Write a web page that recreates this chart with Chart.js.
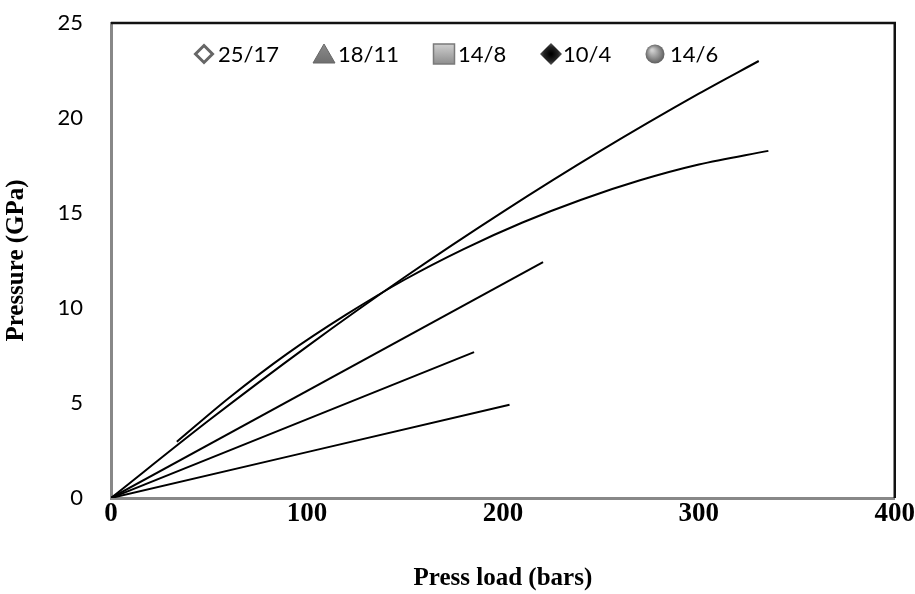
<!DOCTYPE html>
<html lang="en">
<head>
    <meta charset="UTF-8">
    <title>Pressure vs Press load</title>
    <script src="https://cdn.jsdelivr.net/npm/chart.js"></script>
    <style>
        body { margin: 0; background: #fff; }
        #wrap { width: 915px; height: 594px; }
    </style>
</head>
<body>
<div id="wrap"><canvas id="pressureChart" width="915" height="594"></canvas></div>

<script>
    // values
    const seriesNames = ['25/17', '18/11', '14/8', '10/4', '14/6'];

    const loads1 = [0, 50, 100, 150, 200, 250, 300, 330.6];
    const pressure1 = [0, 4.09, 7.97, 11.63, 15.06, 18.28, 21.28, 23.0];

    const loads2 = [33.6, 60, 90, 120, 150, 180, 210, 240, 270, 300, 335.5];
    const pressure2 = [2.96, 5.25, 7.6, 9.65, 11.5, 13.1, 14.5, 15.7, 16.72, 17.55, 18.27];

    const loads3 = [0, 220.5];
    const pressure3 = [0, 12.42];

    const loads4 = [0, 185.3];
    const pressure4 = [0, 7.68];

    const loads5 = [0, 203.4];
    const pressure5 = [0, 4.91];

    const xTicks = [0, 100, 200, 300, 400];
    const yTicks = [0, 5, 10, 15, 20, 25];

    function toPoints(xs, ys) {
        return xs.map((x, i) => ({ x: x, y: ys[i] }));
    }

    const allLoads = [loads1, loads2, loads3, loads4, loads5];
    const allPressure = [pressure1, pressure2, pressure3, pressure4, pressure5];

    const datasets = seriesNames.map((name, i) => ({
        label: name,
        data: toPoints(allLoads[i], allPressure[i]),
        borderColor: '#000',
        borderWidth: 2,
        pointRadius: 0,
        cubicInterpolationMode: 'monotone',
        fill: false
    }));

    // frame: black top and right edges of the plot area
    const framePlugin = {
        id: 'frame',
        afterDatasetsDraw(chart) {
            const a = chart.chartArea;
            const ctx = chart.ctx;
            ctx.save();
            ctx.strokeStyle = '#111';
            ctx.lineWidth = 2.5;
            ctx.beginPath();
            ctx.moveTo(a.left, a.top);
            ctx.lineTo(a.right, a.top);
            ctx.lineTo(a.right, a.bottom);
            ctx.stroke();
            ctx.restore();
        }
    };

    // legend inside the plot area, with shaded markers like the original
    const legendPlugin = {
        id: 'innerLegend',
        afterDraw(chart) {
            const ctx = chart.ctx;
            const a = chart.chartArea;
            const cy = a.top + 31;
            const items = [
                { mark: 'openDiamond', mx: a.left + 93, tx: a.left + 107 },
                { mark: 'triangle', mx: a.left + 213, tx: a.left + 227 },
                { mark: 'square', mx: a.left + 333, tx: a.left + 347 },
                { mark: 'darkDiamond', mx: a.left + 440, tx: a.left + 452 },
                { mark: 'sphere', mx: a.left + 544, tx: a.left + 559 }
            ];
            ctx.save();
            items.forEach((it, i) => {
                const x = it.mx, y = cy;
                let g;
                if (it.mark === 'openDiamond') {
                    ctx.beginPath();
                    ctx.moveTo(x, y - 8.5); ctx.lineTo(x + 8.5, y); ctx.lineTo(x, y + 8.5); ctx.lineTo(x - 8.5, y); ctx.closePath();
                    ctx.fillStyle = '#fff';
                    ctx.fill();
                    ctx.strokeStyle = '#666';
                    ctx.lineWidth = 3;
                    ctx.stroke();
                } else if (it.mark === 'triangle') {
                    g = ctx.createLinearGradient(x, y - 10, x, y + 10);
                    g.addColorStop(0, '#8a8a8a');
                    g.addColorStop(1, '#6e6e6e');
                    ctx.beginPath();
                    ctx.moveTo(x, y - 10); ctx.lineTo(x + 11, y + 9); ctx.lineTo(x - 11, y + 9); ctx.closePath();
                    ctx.fillStyle = g;
                    ctx.fill();
                    ctx.strokeStyle = '#666';
                    ctx.lineWidth = 1;
                    ctx.stroke();
                } else if (it.mark === 'square') {
                    g = ctx.createLinearGradient(x, y - 10, x, y + 10);
                    g.addColorStop(0, '#cfcfcf');
                    g.addColorStop(1, '#8e8e8e');
                    ctx.fillStyle = g;
                    ctx.fillRect(x - 10.5, y - 10, 21, 20);
                    ctx.strokeStyle = '#7a7a7a';
                    ctx.lineWidth = 1.5;
                    ctx.strokeRect(x - 10.5, y - 10, 21, 20);
                } else if (it.mark === 'darkDiamond') {
                    g = ctx.createRadialGradient(x, y, 1, x, y, 11);
                    g.addColorStop(0, '#000');
                    g.addColorStop(0.6, '#222');
                    g.addColorStop(1, '#5a5a5a');
                    ctx.beginPath();
                    ctx.moveTo(x, y - 11); ctx.lineTo(x + 11, y); ctx.lineTo(x, y + 11); ctx.lineTo(x - 11, y); ctx.closePath();
                    ctx.fillStyle = g;
                    ctx.fill();
                } else {
                    g = ctx.createRadialGradient(x - 3, y - 4, 1, x, y, 10);
                    g.addColorStop(0, '#d0d0d0');
                    g.addColorStop(0.6, '#8a8a8a');
                    g.addColorStop(1, '#5a5a5a');
                    ctx.beginPath();
                    ctx.arc(x, y, 9.5, 0, Math.PI * 2);
                    ctx.fillStyle = g;
                    ctx.fill();
                }
                ctx.fillStyle = '#000';
                ctx.font = '22px Lato';
                ctx.textAlign = 'left';
                ctx.textBaseline = 'middle';
                ctx.fillText(chart.data.datasets[i].label, it.tx, y + 1);
            });
            ctx.restore();
        }
    };

    const ctx = document.getElementById('pressureChart').getContext('2d');

    const pressureChart = new Chart(ctx, {
        type: 'line',
        data: { datasets: datasets },
        options: {
            responsive: false,
            animation: false,
            layout: { padding: { left: 0, right: 0, top: 6, bottom: 0 } },
            plugins: {
                legend: { display: false },
                tooltip: { enabled: false }
            },
            scales: {
                x: {
                    type: 'linear',
                    min: 0,
                    max: 400,
                    afterBuildTicks: s => { s.ticks = xTicks.map(v => ({ value: v })); },
                    afterFit: s => { s.height = 96; },
                    grid: { display: false, drawTicks: false },
                    border: { color: '#888', width: 3 },
                    ticks: {
                        color: '#000',
                        padding: 0,
                        maxRotation: 0,
                        font: { family: 'Liberation Serif', size: 27, weight: 'bold' }
                    },
                    title: {
                        display: true,
                        text: 'Press load (bars)',
                        color: '#000',
                        padding: { top: 0, bottom: 0 },
                        font: { family: 'Liberation Serif', size: 25, weight: 'bold' }
                    }
                },
                y: {
                    min: 0,
                    max: 25,
                    afterBuildTicks: s => { s.ticks = yTicks.map(v => ({ value: v })); },
                    afterFit: s => { s.width = 111; s.paddingTop = 23; s.paddingBottom = 0; },
                    grid: { display: false, drawTicks: false },
                    border: { color: '#888', width: 3 },
                    ticks: {
                        color: '#000',
                        padding: 28,
                        font: { family: 'Lato', size: 22 }
                    },
                    title: {
                        display: true,
                        text: 'Pressure (GPa)',
                        color: '#000',
                        padding: { top: 2, bottom: 0 },
                        font: { family: 'Liberation Serif', size: 25, weight: 'bold' }
                    }
                }
            }
        },
        plugins: [framePlugin, legendPlugin]
    });
</script>
</body>
</html>
